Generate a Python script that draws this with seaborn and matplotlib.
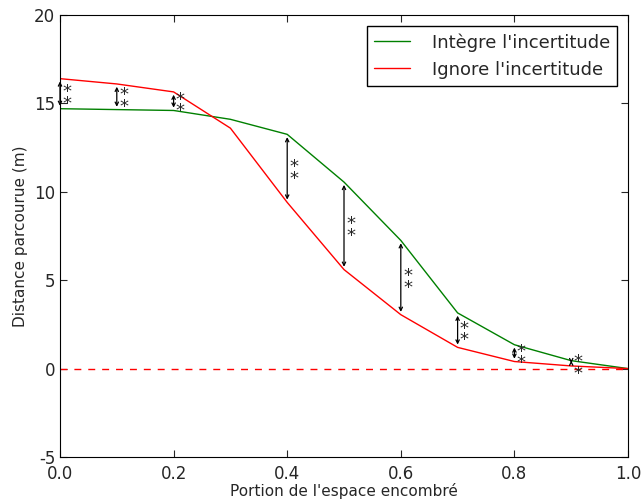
import numpy as np
import pandas as pd
import matplotlib
matplotlib.use("Agg")
import matplotlib.pyplot as plt
import seaborn as sns

portion = [0.0, 0.1, 0.2, 0.3, 0.4, 0.5, 0.6, 0.7, 0.8, 0.9, 1.0]
integre = [14.7, 14.65, 14.6, 14.1, 13.25, 10.55, 7.25, 3.15, 1.35, 0.45, 0.0]
ignore = [16.4, 16.1, 15.65, 13.6, 9.4, 5.6, 3.05, 1.2, 0.4, 0.15, 0.0]
signif = [True, True, True, False, True, True, True, True, True, True, False]

sns.set_style("ticks")
plt.rcParams['font.family'] = ['DejaVu Sans']
plt.rcParams['xtick.direction'] = 'in'
plt.rcParams['ytick.direction'] = 'in'
plt.rcParams['axes.unicode_minus'] = False

df = pd.DataFrame({
    'x': portion * 2,
    'y': integre + ignore,
    'serie': ["Intègre l'incertitude"] * len(portion) + ["Ignore l'incertitude"] * len(portion),
})

fig = plt.figure(figsize=(6.43, 5), dpi=100)
ax = fig.add_axes([0.0933, 0.086, 0.8834, 0.884])
sns.lineplot(data=df, x='x', y='y', hue='serie',
             palette=['green', 'red'], linewidth=1, ax=ax)
ax.axhline(0, color='red', linestyle='--', linewidth=1, dashes=(5, 5))

for x, a, b, s in zip(portion, integre, ignore, signif):
    if not s:
        continue
    ax.annotate('', xy=(x, a), xytext=(x, b),
                arrowprops=dict(arrowstyle='<->', color='black', lw=0.9,
                                mutation_scale=6))
    ax.text(x + 0.012, (a + b) / 2 - 0.25, '*\n*', fontsize=13, linespacing=0.55,
            ha='center', va='center')

ax.set_xlim(0, 1)
ax.set_ylim(-5, 20)
ax.set_xticks(np.arange(0, 1.01, 0.2))
ax.set_yticks([-5, 0, 5, 10, 15, 20])
ax.tick_params(top=True, right=True, labelsize=12, length=5)
ax.tick_params(axis='x', pad=6)
for sp in ax.spines.values():
    sp.set_visible(True)
    sp.set_color('black')
ax.set_xlabel("Portion de l'espace encombré", fontsize=11)
ax.xaxis.set_label_coords(0.5, -0.058)
ax.set_ylabel("Distance parcourue (m)", fontsize=11)
leg = ax.legend(loc='upper right', fontsize=13, fancybox=False,
                edgecolor='black', framealpha=1, handlelength=2,
                handletextpad=1.2, borderaxespad=0.6)
leg.get_frame().set_linewidth(1)

fig.savefig('out.png', dpi=100)
